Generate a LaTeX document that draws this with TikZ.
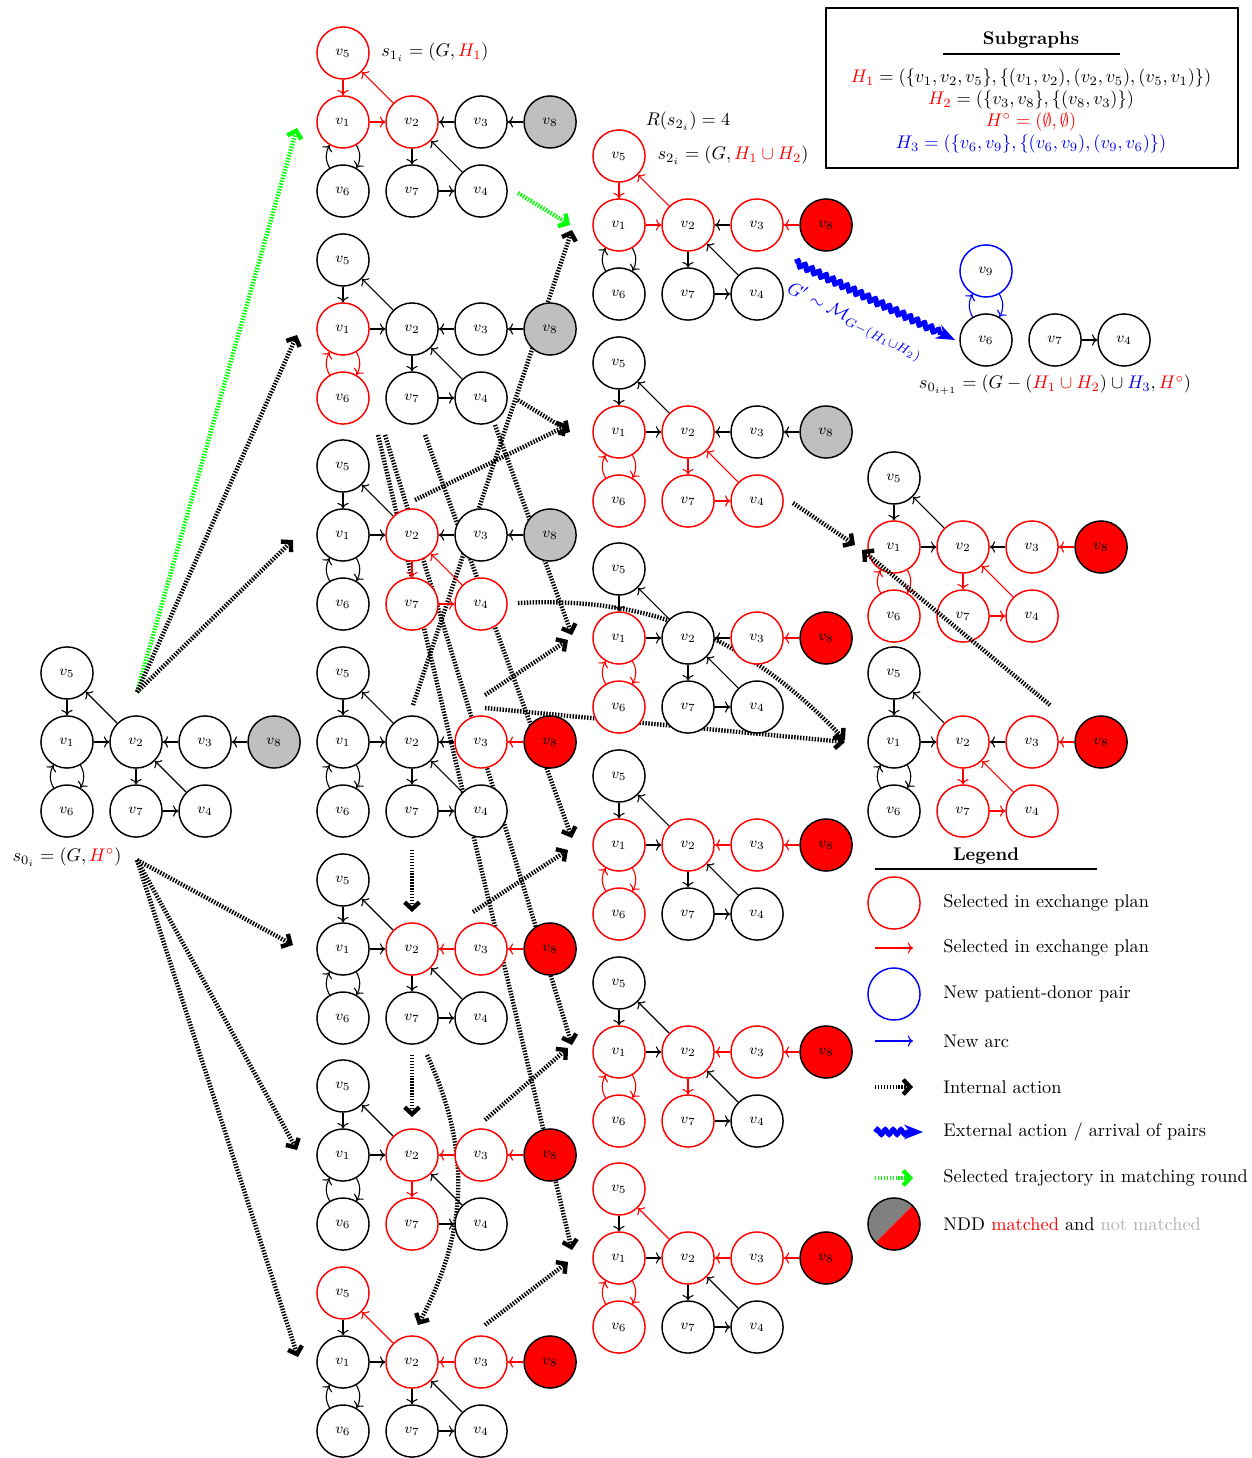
\documentclass[tikz,border=0pt]{standalone}
\usetikzlibrary{arrows.meta,positioning,calc,backgrounds,decorations.pathmorphing}
\tikzset{
  pair/.style    ={draw, circle, thick, minimum size=1cm, inner sep=0pt, fill=white, font=\footnotesize},
  arc/.style     ={->, semithick},
  sel/.style     ={#1/.append style={draw=red}},
  nix/.style     ={},
  internal/.style={line width=2.4pt, dash pattern=on 0.8pt off 0.8pt, -{Straight Barb[length=1.3mm,width=2.8mm]}},
  chosen/.style  ={internal, green},
  external/.style={blue, line width=2.6pt, decorate, decoration={snake, amplitude=0.5mm, segment length=1.5mm, post length=3mm}, -{Stealth[length=3.6mm,width=2.8mm]}},
}
% one state of the pool: #1 name, #2 position of v1, #3 fill of the NDD, #4 selected parts
\newcommand{\kepstate}[4]{%
  \begin{scope}[on grid, node distance=1.325cm,
      n1/.style={pair}, n2/.style={pair}, n3/.style={pair}, n4/.style={pair},
      n5/.style={pair}, n6/.style={pair}, n7/.style={pair}, n8/.style={pair, fill=#3},
      a51/.style={arc}, a12/.style={arc}, a25/.style={arc}, a32/.style={arc}, a83/.style={arc},
      a27/.style={arc}, a74/.style={arc}, a42/.style={arc}, a16/.style={arc}, a61/.style={arc},
      sel/.list={#4}]
    \node[n1] (#1-1) at #2 {$v_1$};
    \node[n5, above=of #1-1] (#1-5) {$v_5$};
    \node[n6, below=of #1-1] (#1-6) {$v_6$};
    \node[n2, right=of #1-1] (#1-2) {$v_2$};
    \node[n7, below=of #1-2] (#1-7) {$v_7$};
    \node[n3, right=of #1-2] (#1-3) {$v_3$};
    \node[n4, below=of #1-3] (#1-4) {$v_4$};
    \node[n8, right=of #1-3] (#1-8) {$v_8$};
    \draw[a51] (#1-5) -- (#1-1);
    \draw[a12] (#1-1) -- (#1-2);
    \draw[a25] (#1-2) -- (#1-5);
    \draw[a32] (#1-3) -- (#1-2);
    \draw[a83] (#1-8) -- (#1-3);
    \draw[a27] (#1-2) -- (#1-7);
    \draw[a74] (#1-7) -- (#1-4);
    \draw[a42] (#1-4) -- (#1-2);
    \draw[a16] (#1-1) to[out=-60,in=60] (#1-6);
    \draw[a61] (#1-6) to[out=120,in=-120] (#1-1);
  \end{scope}}

\begin{document}
\begin{tikzpicture}[x=0.0192cm, y=-0.0192cm]
  \useasboundingbox (0,0) rectangle (1252,1458);

  % states
  \kepstate{s0}{(67,742)}{gray!50}{nix}
  \kepstate{s1a}{(343,122)}{gray!50}{n5,n1,n2,a51,a12,a25}
  \kepstate{s1b}{(343,329)}{gray!50}{n1,n6,a16,a61}
  \kepstate{s1c}{(343,535)}{gray!50}{n2,n7,n4,a27,a74,a42}
  \kepstate{s1d}{(343,742)}{red}{n3,a83}
  \kepstate{s1e}{(343,949)}{red}{n2,n3,a32,a83}
  \kepstate{s1f}{(343,1155)}{red}{n2,n3,n7,a32,a83,a27}
  \kepstate{s1g}{(343,1362)}{red}{n5,n2,n3,a25,a32,a83}
  \kepstate{s2a}{(619,225)}{red}{n5,n1,n2,n3,a51,a12,a25,a83}
  \kepstate{s2b}{(619,432)}{gray!50}{n1,n6,n2,n7,n4,a16,a61,a27,a74,a42}
  \kepstate{s2c}{(619,638)}{red}{n1,n6,n3,a16,a61,a83}
  \kepstate{s2d}{(619,845)}{red}{n1,n6,n2,n3,a16,a61,a32,a83}
  \kepstate{s2e}{(619,1052)}{red}{n1,n6,n2,n3,n7,a16,a61,a32,a83,a27}
  \kepstate{s2f}{(619,1258)}{red}{n5,n1,n6,n2,n3,a16,a61,a25,a32,a83}
  \kepstate{s3a}{(894,547)}{red}{n1,n6,n2,n3,n7,n4,a16,a61,a27,a74,a42,a83}
  \kepstate{s3b}{(894,742)}{red}{n2,n3,n7,n4,a27,a74,a42,a83}

  % next round
  \begin{scope}[on grid, node distance=1.325cm]
    \node[pair] (n0-6) at (986,340) {$v_6$};
    \node[pair, draw=blue, above=of n0-6] (n0-9) {$v_9$};
    \node[pair, right=of n0-6] (n0-7) {$v_7$};
    \node[pair, right=of n0-7] (n0-4) {$v_4$};
  \end{scope}
  \draw[arc, draw=blue] (n0-6) to[out=120,in=-120] (n0-9);
  \draw[arc, draw=blue] (n0-9) to[out=-60,in=60] (n0-6);
  \draw[arc] (n0-7) -- (n0-4);

  % state labels
  \node (l-s0) at (67,857) {$s_{0_i} = (G, \textcolor{red}{H^\circ})$};
  \node (l-s1) at (435,52) {$s_{1_i} = (G, \textcolor{red}{H_1})$};
  \node (l-r) at (688,121) {$R(s_{2_i}) = 4$};
  \node (l-s2) at (733,155) {$s_{2_i} = (G, \textcolor{red}{H_1 \cup H_2})$};
  \node (l-s0n) at (1055,385) {$s_{0_{i+1}} = (G - (\textcolor{red}{H_1 \cup H_2}) \cup \textcolor{blue}{H_3}, \textcolor{red}{H^\circ})$};

  % subgraphs
  \node[draw, thick, minimum width=7.91cm, minimum height=3.07cm] (subbox) at (1032,88) {};
  \node[font=\bfseries] (subtitle) at (1031,40) {Subgraphs};
  \draw[thick] (943,54) -- (1120,54);
  \node[align=center] (subtext) at (1031,111) {%
    $\textcolor{red}{H_1} = (\{v_1, v_2, v_5\}, \{(v_1, v_2), (v_2, v_5), (v_5, v_1)\})$\\
    $\textcolor{red}{H_2} = (\{v_3, v_8\}, \{(v_8, v_3)\})$\\
    $\textcolor{red}{H^\circ = (\emptyset, \emptyset)}$\\
    $\textcolor{blue}{H_3 = (\{v_6, v_9\}, \{(v_6, v_9), (v_9, v_6)\})}$};

  % legend
  \node[font=\bfseries] (legtitle) at (986,856) {Legend};
  \draw[thick] (875,869) -- (1097,869);
  \foreach \y/\txt in {903/{Selected in exchange plan}, 948/{Selected in exchange plan},
      994/{New patient-donor pair}, 1041/{New arc}, 1087/{Internal action},
      1132/{External action / arrival of pairs}, 1178/{Selected trajectory in matching round},
      1224/{NDD \textcolor{red}{matched} and \textcolor{gray!60}{not matched}}}
    \node[anchor=west] (lgt-\y) at (937,\y) {\txt};
  \node[pair, draw=red] (lg-1) at (894,903) {};
  \node[pair, draw=blue] (lg-3) at (894,994) {};
  \foreach \nm/\y in {2/948, 4/1041, 5/1087, 7/1178}{
    \coordinate (lg-\nm a) at (875,\y);
    \coordinate (lg-\nm b) at (913,\y);
  }
  \coordinate (lg-6a) at (875,1132);
  \coordinate (lg-6b) at (923,1132);
  \draw[arc, draw=red] (lg-2a) -- (lg-2b);
  \draw[arc, draw=blue] (lg-4a) -- (lg-4b);
  \draw[internal] (lg-5a) -- (lg-5b);
  \draw[external] (lg-6a) -- (lg-6b);
  \draw[chosen] (lg-7a) -- (lg-7b);
  \coordinate (lg-8c) at (894,1224);
  \fill[gray] ($(lg-8c)+(45:0.5cm)$) arc[start angle=45, end angle=225, radius=0.5cm] -- cycle;
  \fill[red] ($(lg-8c)+(225:0.5cm)$) arc[start angle=225, end angle=405, radius=0.5cm] -- cycle;
  \node[pair, fill=none] (lg-8) at (lg-8c) {};

  % ends of the actions
  \foreach \nm/\xy in {s0up/{137,692}, s0dn/{137,860},
      in-1a/{297,128}, in-1b/{297,335}, in-1c/{293,540}, in-1e/{293,945}, in-1f/{297,1150}, in-1g/{298,1357},
      o-1a/{518,193}, i-2a1/{570,225}, o-1b/{518,400}, i-2b1/{570,432},
      o-1d1/{413,705}, i-2a2/{572,230}, o-1c1/{415,500}, i-2b2/{568,425},
      o-1b1/{495,425}, i-2c1/{572,635}, o-1d2/{485,695}, i-2c2/{568,640},
      o-1b2/{425,435}, i-2d1/{572,838}, o-1e/{473,912}, i-2d2/{568,850},
      o-1b3/{385,435}, i-2e1/{572,1045}, o-1f/{485,1120}, i-2e2/{568,1048},
      o-1b4/{378,435}, i-2f1/{572,1250}, o-1g/{485,1325}, i-2f2/{568,1262},
      o-1d3/{412,850}, i-1e2/{412,912}, o-1e2/{412,1055}, i-1f2/{412,1117},
      o-1e3/{427,1055}, i-1g2/{418,1325}, o-1c2/{518,603}, i-3b1/{845,740},
      o-1d4/{485,708}, i-3b2/{845,742}, o-2b/{793,503}, i-3a1/{855,545},
      o-3b/{1050,705}, i-3a2/{862,550}, o-2a/{795,262}, i-0n/{955,340}}
    \coordinate (\nm) at (\xy);

  \begin{scope}[on background layer]
    \draw[chosen] (s0up) -- (in-1a);
    \draw[internal] (s0up) -- (in-1b);
    \draw[internal] (s0up) -- (in-1c);
    \draw[internal] (s0dn) -- (in-1e);
    \draw[internal] (s0dn) -- (in-1f);
    \draw[internal] (s0dn) -- (in-1g);
    \draw[chosen] (o-1a) -- (i-2a1);
    \draw[internal] (o-1b) -- (i-2b1);
    \draw[internal] (o-1d1) -- (i-2a2);
    \draw[internal] (o-1c1) -- (i-2b2);
    \draw[internal] (o-1b1) -- (i-2c1);
    \draw[internal] (o-1d2) -- (i-2c2);
    \draw[internal] (o-1b2) -- (i-2d1);
    \draw[internal] (o-1e) -- (i-2d2);
    \draw[internal] (o-1b3) -- (i-2e1);
    \draw[internal] (o-1f) -- (i-2e2);
    \draw[internal] (o-1b4) -- (i-2f1);
    \draw[internal] (o-1g) -- (i-2f2);
    \draw[internal] (o-1d3) -- (i-1e2);
    \draw[internal] (o-1e2) -- (i-1f2);
    \draw[internal] (o-1e3) to[out=-65,in=62] (i-1g2);
    \draw[internal] (o-1c2) to[out=3,in=134] (i-3b1);
    \draw[internal] (o-1d4) -- (i-3b2);
    \draw[internal] (o-2b) -- (i-3a1);
  \end{scope}
  \draw[internal] (o-3b) -- (i-3a2);
  \draw[external] (o-2a) -- node[sloped, below=5pt, pos=0.45] {$G' \sim \mathcal{M}_{G-(H_1 \cup H_2)}$} (i-0n);
\end{tikzpicture}
\end{document}
